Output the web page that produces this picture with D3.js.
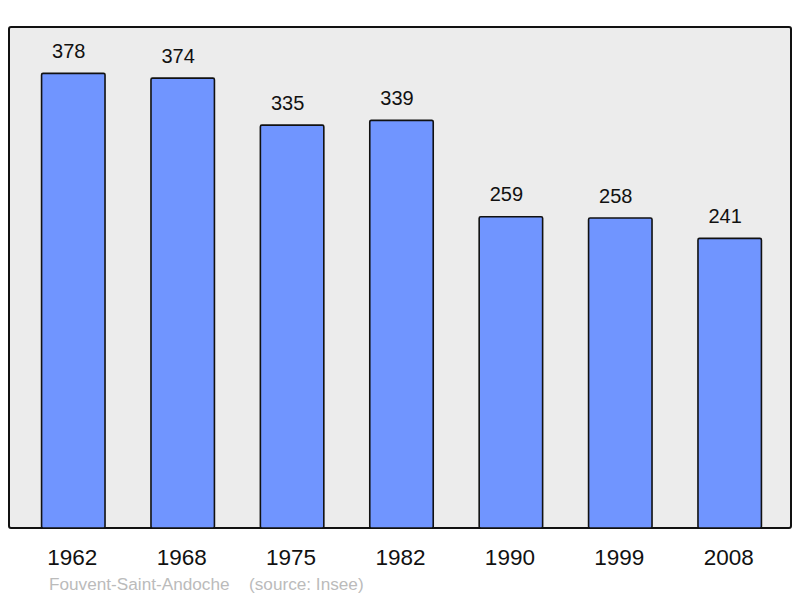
<!DOCTYPE html>
<html><head><meta charset="utf-8">
<script src="https://cdn.jsdelivr.net/npm/d3@7"></script>
<style>body{margin:0;background:#fff}svg{display:block}text{font-family:"Liberation Sans",Arial,sans-serif}</style>
</head><body>
<svg id="c" width="800" height="598"></svg>
<script>
const years = ["1962","1968","1975","1982","1990","1999","2008"];
const population = [378,374,335,339,259,258,241];
const commune = "Fouvent-Saint-Andoche";
const source = "(source: Insee)";

const svg = d3.select("#c");
const plot = {x0:9, y0:27, x1:791, y1:528};

svg.append("rect").attr("x",plot.x0).attr("y",plot.y0)
  .attr("width",plot.x1-plot.x0).attr("height",plot.y1-plot.y0)
  .attr("rx",2).attr("fill","#ececec").attr("stroke","#111").attr("stroke-width",2);

const x = d3.scaleBand().domain(years).range([18.6,784.4]).paddingInner(0.42).paddingOuter(0.21);
const y = d3.scaleLinear().domain([0, d3.max(population)*1.1]).range([plot.y1, plot.y0]);

const g = svg.append("g");
g.selectAll("rect.bar").data(years).join("rect").attr("class","bar")
  .attr("x",d=>x(d)).attr("width",x.bandwidth())
  .attr("y",(d,i)=>y(population[i])+0.8).attr("height",(d,i)=>plot.y1-y(population[i])-0.8)
  .attr("rx",1.5).attr("fill","#7095ff").attr("stroke","#111").attr("stroke-width",1.6);

g.selectAll("text.val").data(years).join("text").attr("class","val")
  .attr("x",d=>x(d)+x.bandwidth()/2-4.5).attr("y",(d,i)=>y(population[i])-14.5)
  .attr("text-anchor","middle").attr("font-size",20).attr("fill","#111")
  .text((d,i)=>population[i]);

const axis = d3.axisBottom(x).tickSize(0).tickPadding(0);
const ag = svg.append("g").attr("transform",`translate(0,${plot.y1})`).call(axis);
ag.select(".domain").remove();
ag.selectAll("text").attr("font-size",22.5).attr("fill","#111")
  .attr("dy",null).attr("y",37).attr("x",-1).style("font-family","'Liberation Sans',Arial,sans-serif");

svg.append("text").attr("x",49).attr("y",590).attr("font-size",17.2).attr("fill","#bbbbbb").text(commune);
svg.append("text").attr("x",249).attr("y",590).attr("font-size",17.2).attr("fill","#bbbbbb").text(source);
</script>
</body></html>
